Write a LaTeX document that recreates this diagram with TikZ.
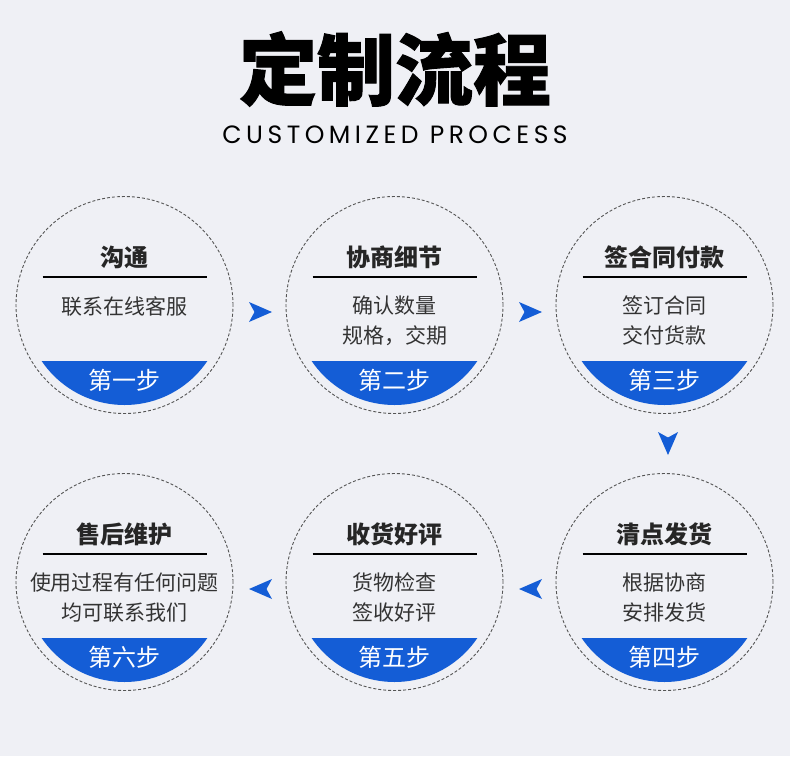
\documentclass[tikz,border=0pt]{standalone}
\usepackage{fontspec}
\setmainfont{Noto Sans CJK SC}
\newfontfamily\cjk{Noto Sans CJK SC}
\newfontfamily\latin{Poppins}
\usetikzlibrary{calc}
\definecolor{bg}{RGB}{239,240,245}
\definecolor{stepblue}{RGB}{20,93,214}
\definecolor{ringgray}{RGB}{85,85,85}
\definecolor{titlec}{RGB}{38,38,38}
\definecolor{descc}{RGB}{51,51,51}
\tikzset{
  ring/.style={circle, draw=ringgray, dashed, dash pattern=on 3pt off 2pt, line width=0.9pt, minimum size=217pt, inner sep=0pt},
  steptitle/.style={font=\cjk\bfseries\fontsize{24}{28}\selectfont, text=titlec, inner sep=0pt},
  stepdesc/.style={font=\cjk\fontsize{21}{30}\selectfont, text=descc, inner sep=0pt, align=center, anchor=north},
  steplabel/.style={font=\cjk\fontsize{24}{28}\selectfont, text=white, inner sep=0pt},
  rule/.style={line width=1.2pt, black},
  arrowhead/.pic={\fill[stepblue] (11.5,0) -- (-11.5,-10) -- (-6,0) -- (-11.5,10) -- cycle;}
}
\newcommand{\stepcircle}[5]{%
  % #1 name, #2 center, #3 title, #4 desc, #5 label
  \node[ring] (#1) at (#2) {};
  \begin{scope}
    \clip (#1.center) circle[radius=100];
    \fill[stepblue] ($(#1.center)+(-110,56)$) rectangle ($(#1.center)+(110,110)$);
  \end{scope}
  \node[steptitle] (#1t) at ($(#1.center)+(0,-48)$) {#3};
  \coordinate (#1l) at ($(#1.center)+(-82,-28)$);
  \coordinate (#1r) at ($(#1.center)+(82,-28)$);
  \draw[rule] (#1l) -- (#1r);
  \node[stepdesc] (#1d) at ($(#1.center)+(0,-9)$) {#4};
  \node[steplabel] (#1s) at ($(#1.center)+(0,75)$) {#5};
}
\begin{document}
\begin{tikzpicture}[x=1pt,y=-1pt]
\fill[bg] (0,0) rectangle (790,756);
\useasboundingbox (0,0) rectangle (790,756);
\node[font=\cjk\bfseries\fontsize{78}{82}\selectfont\addfontfeature{FakeBold=1.2}, inner sep=0pt] (title) at (395,69) {定制流程};
\node[font=\latin\fontsize{25}{28}\selectfont\addfontfeature{LetterSpace=18}, inner sep=0pt] (subtitle) at (395,135) {CUSTOMIZED PROCESS};

\stepcircle{c1}{124.5,305}{沟通}{联系在线客服}{第一步}
\stepcircle{c2}{394.5,305}{协商细节}{确认数量\\规格，交期}{第二步}
\stepcircle{c3}{664.5,305}{签合同付款}{签订合同\\交付货款}{第三步}
\stepcircle{c4}{664.5,582}{清点发货}{根据协商\\安排发货}{第四步}
\stepcircle{c5}{394.5,582}{收货好评}{货物检查\\签收好评}{第五步}
\stepcircle{c6}{124.5,582}{售后维护}{使用过程有任何问题\\均可联系我们}{第六步}

\pic at ($($(c1.east)!0.5!(c2.west)$)+(1,7)$) {arrowhead};
\pic at ($($(c2.east)!0.5!(c3.west)$)+(1,7)$) {arrowhead};
\pic[rotate=-90] at ($($(c3.south)!0.5!(c4.north)$)+(3.5,0)$) {arrowhead};
\pic[rotate=180] at ($($(c4.west)!0.5!(c5.east)$)+(1,7)$) {arrowhead};
\pic[rotate=180] at ($($(c5.west)!0.5!(c6.east)$)+(1,7)$) {arrowhead};
\end{tikzpicture}
\end{document}
